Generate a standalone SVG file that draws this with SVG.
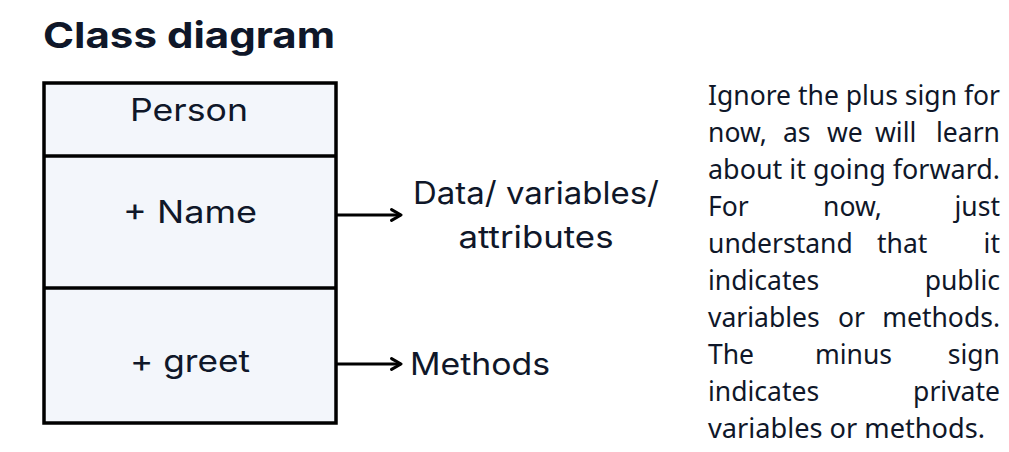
<svg xmlns="http://www.w3.org/2000/svg" width="1009" height="452" viewBox="0 0 1009 452">
<defs>
<style>
.t{font-family:Inter,"Noto Sans","Liberation Sans",sans-serif;fill:#0f1729}
.title{font-size:36px;font-weight:700}
.lbl{font-size:31px;font-weight:400}
.p{font-family:"Noto Sans","Open Sans","Liberation Sans",sans-serif;font-size:26.5px;fill:#0f1729}
.box{fill:#f3f6fb;stroke:#000;stroke-width:3.5}
.ln{stroke:#000;stroke-width:3.5;fill:none}
.conn{stroke:#000;stroke-width:3;fill:none}
</style>
<marker id="ah" viewBox="0 0 10 10" refX="8" refY="5" markerWidth="4.5" markerHeight="4.5" orient="auto" markerUnits="strokeWidth">
<path d="M1,1 L8,5 L1,9" fill="none" stroke="#000" stroke-width="2.2" stroke-linecap="round" stroke-linejoin="round"/>
</marker>
</defs>
<rect width="1009" height="452" fill="#fff"/>
<text class="t title" x="43" y="48" textLength="292" lengthAdjust="spacingAndGlyphs">Class diagram</text>
<g id="person-class">
<rect class="box" x="44" y="83" width="292" height="340"/>
<line class="ln" x1="44" y1="156" x2="336" y2="156"/>
<line class="ln" x1="44" y1="288" x2="336" y2="288"/>
<text class="t lbl" x="189" y="121" text-anchor="middle" textLength="118" lengthAdjust="spacingAndGlyphs">Person</text>
<text class="t lbl" x="190" y="223" text-anchor="middle" textLength="134" lengthAdjust="spacingAndGlyphs">+ Name</text>
<text class="t lbl" x="190" y="372" text-anchor="middle" textLength="120" lengthAdjust="spacingAndGlyphs">+ greet</text>
</g>
<g id="connectors">
<line class="conn" x1="337" y1="215" x2="401" y2="215" marker-end="url(#ah)"/>
<line class="conn" x1="337" y1="364" x2="401" y2="364" marker-end="url(#ah)"/>
</g>
<g id="data-label">
<text class="t lbl" x="536" y="204" text-anchor="middle" textLength="246" lengthAdjust="spacingAndGlyphs">Data/ variables/</text>
<text class="t lbl" x="536" y="248" text-anchor="middle" textLength="155" lengthAdjust="spacingAndGlyphs">attributes</text>
</g>
<g id="methods-label">
<text class="t lbl" x="410" y="375" textLength="140" lengthAdjust="spacingAndGlyphs">Methods</text>
</g>
<g id="note">
<text class="p" x="708" y="105" textLength="292" lengthAdjust="spacingAndGlyphs">Ignore the plus sign for</text>
<text class="p" x="708" y="142">now,</text><text class="p" x="783" y="142">as</text><text class="p" x="827" y="142">we</text><text class="p" x="875" y="142">will</text><text class="p" x="1000" y="142" text-anchor="end">learn</text>
<text class="p" x="708" y="179" textLength="292" lengthAdjust="spacingAndGlyphs">about it going forward.</text>
<text class="p" x="708" y="216">For</text><text class="p" x="823" y="216">now,</text><text class="p" x="1000" y="216" text-anchor="end">just</text>
<text class="p" x="708" y="253">understand</text><text class="p" x="877" y="253">that</text><text class="p" x="1000" y="253" text-anchor="end">it</text>
<text class="p" x="708" y="290">indicates</text><text class="p" x="1000" y="290" text-anchor="end">public</text>
<text class="p" x="708" y="327">variables</text><text class="p" x="838" y="327">or</text><text class="p" x="1000" y="327" text-anchor="end">methods.</text>
<text class="p" x="708" y="364">The</text><text class="p" x="815" y="364">minus</text><text class="p" x="1000" y="364" text-anchor="end">sign</text>
<text class="p" x="708" y="401">indicates</text><text class="p" x="1000" y="401" text-anchor="end">private</text>
<text class="p" x="708" y="438" textLength="277" lengthAdjust="spacingAndGlyphs">variables or methods.</text>
</g>
</svg>
